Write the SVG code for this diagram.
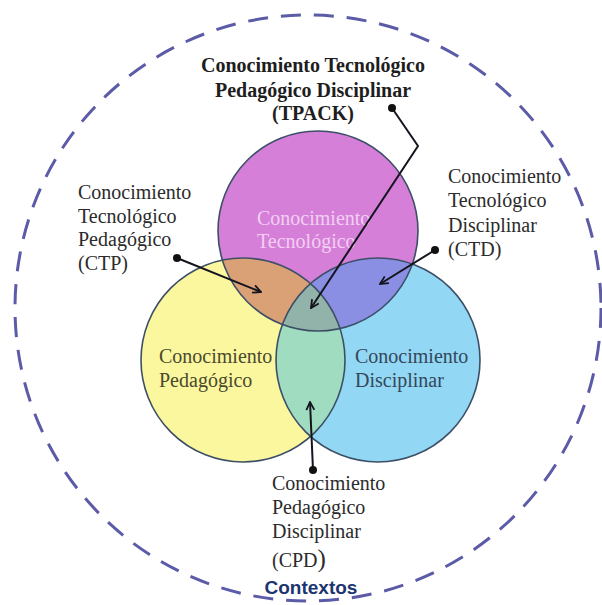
<svg xmlns="http://www.w3.org/2000/svg" width="602" height="605" viewBox="0 0 602 605">
  <style>
    .lbl { font-family: "Liberation Serif", "Times New Roman", serif; font-size: 20px; fill: #2b2b2b; }
    .title { font-family: "Liberation Serif", "Times New Roman", serif; font-size: 20px; font-weight: bold; fill: #1e1e1e; }
    .outline { fill: none; stroke: #3d4f66; stroke-width: 1.6; }
    .conn { fill: none; stroke: #15151f; stroke-width: 2; marker-start: url(#dot); marker-end: url(#arrow); }
  </style>
  <defs>
    <clipPath id="clipT"><circle cx="318" cy="231" r="100"/></clipPath>
    <clipPath id="clipP"><circle cx="243" cy="360" r="102"/></clipPath>
    <clipPath id="clipD"><circle cx="378" cy="360" r="102"/></clipPath>
    <marker id="arrow" viewBox="0 0 10 10" refX="9" refY="5" markerWidth="10" markerHeight="10" markerUnits="userSpaceOnUse" orient="auto">
      <path d="M1,1 L9,5 L1,9" fill="none" stroke="#15151f" stroke-width="1.8"/>
    </marker>
    <marker id="dot" viewBox="0 0 10 10" refX="5" refY="5" markerWidth="8" markerHeight="8" markerUnits="userSpaceOnUse">
      <circle cx="5" cy="5" r="5" fill="#111"/>
    </marker>
  </defs>

  <rect width="602" height="605" fill="#ffffff"/>

  <!-- context boundary -->
  <g id="contextos">
    <circle cx="308" cy="308" r="293" fill="none" stroke="#5b5ba8" stroke-width="3" stroke-dasharray="20 13"/>
    <text x="311" y="594" text-anchor="middle" style="font-family: 'Liberation Sans', Arial, sans-serif; font-size: 19px; font-weight: bold; fill: #1c3570;">Contextos</text>
  </g>

  <!-- base knowledge circles -->
  <g id="tecnologico">
    <circle cx="318" cy="231" r="100" fill="#d57fd9"/>
  </g>
  <g id="pedagogico">
    <circle cx="243" cy="360" r="102" fill="#fbf79f"/>
  </g>
  <g id="disciplinar">
    <circle cx="378" cy="360" r="102" fill="#92d7f4"/>
  </g>

  <!-- pairwise and triple intersections -->
  <g id="ctp">
    <circle cx="318" cy="231" r="100" fill="#dba176" clip-path="url(#clipP)"/>
  </g>
  <g id="ctd">
    <circle cx="318" cy="231" r="100" fill="#8a8fe3" clip-path="url(#clipD)"/>
  </g>
  <g id="cpd">
    <circle cx="243" cy="360" r="102" fill="#a0dcc0" clip-path="url(#clipD)"/>
  </g>
  <g id="tpack">
    <g clip-path="url(#clipP)">
      <circle cx="318" cy="231" r="100" fill="#92b3a9" clip-path="url(#clipD)"/>
    </g>
  </g>

  <!-- circle outlines -->
  <g id="outlines">
    <circle class="outline" cx="318" cy="231" r="100"/>
    <circle class="outline" cx="243" cy="360" r="102"/>
    <circle class="outline" cx="378" cy="360" r="102"/>
  </g>

  <!-- circle labels -->
  <g id="labels-inner">
    <text class="lbl" x="257" y="225" style="fill:#f2cff1;">Conocimiento</text>
    <text class="lbl" x="257" y="248" style="fill:#f2cff1;">Tecnológico</text>
    <text class="lbl" x="159" y="363" style="fill:#4a4a2e;">Conocimiento</text>
    <text class="lbl" x="159" y="387" style="fill:#4a4a2e;">Pedagógico</text>
    <text class="lbl" x="355" y="363" style="fill:#34475a;">Conocimiento</text>
    <text class="lbl" x="355" y="387" style="fill:#34475a;">Disciplinar</text>
  </g>

  <!-- intersection labels -->
  <g id="labels-outer">
    <text class="title" text-anchor="middle" x="313" y="72">Conocimiento Tecnológico</text>
    <text class="title" text-anchor="middle" x="313" y="97">Pedagógico Disciplinar</text>
    <text class="title" text-anchor="middle" x="313" y="120">(TPACK)</text>

    <text class="lbl" x="78" y="199">Conocimiento</text>
    <text class="lbl" x="78" y="223">Tecnológico</text>
    <text class="lbl" x="78" y="246">Pedagógico</text>
    <text class="lbl" x="78" y="270">(CTP)</text>

    <text class="lbl" x="448" y="183">Conocimiento</text>
    <text class="lbl" x="448" y="207">Tecnológico</text>
    <text class="lbl" x="448" y="232">Disciplinar</text>
    <text class="lbl" x="448" y="256">(CTD)</text>

    <text class="lbl" x="272" y="490">Conocimiento</text>
    <text class="lbl" x="272" y="514">Pedagógico</text>
    <text class="lbl" x="272" y="538">Disciplinar</text>
    <text class="lbl" x="272" y="567">(CPD<tspan style="font-size:25px;">)</tspan></text>
  </g>

  <!-- connectors -->
  <g id="connectors">
    <path class="conn" d="M392,108 L418,146 L311,308"/>
    <path class="conn" d="M177,258 L261,292"/>
    <path class="conn" d="M435,250 L380,284"/>
    <path class="conn" d="M313,470 L310,402"/>
  </g>
</svg>
